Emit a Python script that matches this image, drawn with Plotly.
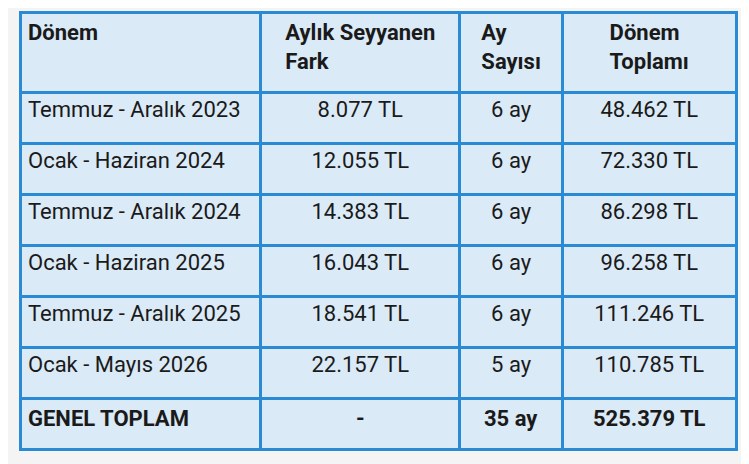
import plotly.graph_objects as go

headers = ["<br>Dönem", "Aylık Seyyanen<br>Fark", "Ay<br>Sayısı", "Dönem<br>Toplamı"]
donem = ["Temmuz - Aralık 2023", "Ocak - Haziran 2024", "Temmuz - Aralık 2024",
         "Ocak - Haziran 2025", "Temmuz - Aralık 2025", "Ocak - Mayıs 2026", "GENEL TOPLAM"]
fark = ["8.077 TL", "12.055 TL", "14.383 TL", "16.043 TL", "18.541 TL", "22.157 TL", "-"]
ay = ["6 ay", "6 ay", "6 ay", "6 ay", "6 ay", "5 ay", "35 ay"]
toplam = ["48.462 TL", "72.330 TL", "86.298 TL", "96.258 TL", "111.246 TL", "110.785 TL", "525.379 TL"]

def boldlast(col):
    return col[:-1] + ["<b>" + col[-1] + "</b>"]

cols = [boldlast(donem), boldlast(fark), boldlast(ay), boldlast(toplam)]
W = 749
fig = go.Figure(go.Table(
    domain=dict(x=[12/W, 728/W], y=[0, 1 - 4/464]),
    columnwidth=[244, 202, 104, 176],
    header=dict(values=["<b>%s</b>" % h for h in headers],
                align=["left", "center", "center", "center"],
                fill_color="#dbeaf7", line=dict(color="#2a8ad4", width=3),
                font=dict(family="Roboto, sans-serif", size=22, color="#1a1a1a"),
                height=80),
    cells=dict(values=cols,
               align=["left", "center", "center", "center"],
               fill_color="#dbeaf7", line=dict(color="#2a8ad4", width=3),
               font=dict(family="Roboto, sans-serif", size=22, color="#1a1a1a"),
               height=51),
))
fig.update_layout(width=749, height=464, margin=dict(l=0, r=0, t=0, b=0),
                  paper_bgcolor="#f4f4f4")
fig.write_html("out.html")
